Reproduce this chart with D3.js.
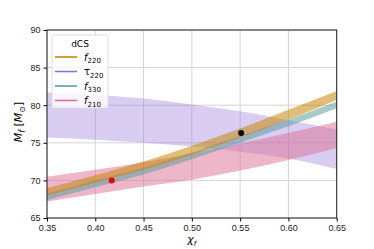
<!DOCTYPE html>
<html>
<head>
<meta charset="utf-8">
<script src="https://cdn.jsdelivr.net/npm/d3@7"></script>
<style>
  body { margin: 0; background: #fff; }
  svg { font-family: "DejaVu Sans", sans-serif; }
  .tick text { font-size: 9px; fill: #222; }
</style>
</head>
<body>
<div id="chart"></div>
<script>
// ------------ DATA ------------
var chi = [0.35, 0.40, 0.45, 0.50, 0.55, 0.60, 0.65];

var tau220Upper = [81.7, 81.4, 80.9, 80.1, 79.2, 78.0, 76.8];
var tau220Lower = [75.7, 75.4, 75.0, 74.5, 73.8, 72.9, 71.5];

var f210Upper = [70.5, 71.4, 72.4, 73.6, 74.9, 76.3, 77.8];
var f210Lower = [67.2, 68.2, 69.2, 70.1, 71.3, 72.7, 74.3];

var f220Upper = [69.0, 70.7, 72.5, 74.6, 76.9, 79.4, 81.9];
var f220Lower = [68.0, 69.7, 71.4, 73.4, 75.7, 78.1, 80.7];

var f330Upper = [68.3, 70.0, 71.7, 73.7, 75.9, 78.1, 80.5];
var f330Lower = [67.4, 69.1, 70.8, 72.8, 75.0, 77.2, 79.6];

var redPoint = [0.417, 70.0];
var blackPoint = [0.551, 76.3];

var xTicks = [0.35, 0.40, 0.45, 0.50, 0.55, 0.60, 0.65];
var yTicks = [65, 70, 75, 80, 85, 90];

// ------------ CHART FORMATTING ------------
var svgWidth = 374;
var svgHeight = 249;
var margin = { top: 30, right: 37.3, bottom: 31, left: 47 };
var chartWidth = svgWidth - margin.left - margin.right;
var chartHeight = svgHeight - margin.top - margin.bottom;

var svg = d3.select("#chart")
  .append("svg")
  .attr("width", svgWidth)
  .attr("height", svgHeight);

var chartGroup = svg.append("g")
  .attr("transform", `translate(${margin.left}, ${margin.top})`);

var x = d3.scaleLinear().domain([0.35, 0.65]).range([0, chartWidth]);
var y = d3.scaleLinear().domain([65, 90]).range([chartHeight, 0]);

// grid
chartGroup.append("g")
  .selectAll("line.vgrid")
  .data(xTicks)
  .enter()
  .append("line")
    .attr("x1", d => x(d)).attr("x2", d => x(d))
    .attr("y1", 0).attr("y2", chartHeight)
    .attr("stroke", "#d4d4d4").attr("stroke-width", 1);
chartGroup.append("g")
  .selectAll("line.hgrid")
  .data(yTicks)
  .enter()
  .append("line")
    .attr("x1", 0).attr("x2", chartWidth)
    .attr("y1", d => y(d)).attr("y2", d => y(d))
    .attr("stroke", "#d4d4d4").attr("stroke-width", 1);

// ------------ BANDS ------------
function band(upper, lower) {
  return chi.map((c, i) => ({ c: c, hi: upper[i], lo: lower[i] }));
}
var area = d3.area()
  .x(d => x(d.c))
  .y0(d => y(d.lo))
  .y1(d => y(d.hi))
  .curve(d3.curveMonotoneX);

var bands = [
  { data: band(tau220Upper, tau220Lower), color: "#9370db", op: 0.35 },
  { data: band(f210Upper, f210Lower), color: "#db7093", op: 0.5 },
  { data: band(f330Upper, f330Lower), color: "#5f9ea0", op: 0.55 },
  { data: band(f220Upper, f220Lower), color: "#c8860a", op: 0.55 }
];

chartGroup.append("g")
  .selectAll("path")
  .data(bands)
  .enter()
  .append("path")
    .attr("d", d => area(d.data))
    .attr("fill", d => d.color)
    .attr("fill-opacity", d => d.op);

// points
chartGroup.append("circle")
  .attr("cx", x(redPoint[0])).attr("cy", y(redPoint[1]))
  .attr("r", 3).attr("fill", "#e8000b");
chartGroup.append("circle")
  .attr("cx", x(blackPoint[0])).attr("cy", y(blackPoint[1]))
  .attr("r", 3).attr("fill", "#000");

// ------------ AXES ------------
chartGroup.append("g")
  .attr("transform", "translate(0, " + chartHeight + ")")
  .call(d3.axisBottom(x).tickValues(xTicks).tickFormat(d3.format(".2f")).tickSize(3.5).tickPadding(3))
  .call(g => g.select(".domain").remove());
chartGroup.append("g")
  .call(d3.axisLeft(y).tickValues(yTicks).tickSize(3.5).tickPadding(3))
  .call(g => g.select(".domain").remove());

// frame
chartGroup.append("rect")
  .attr("width", chartWidth).attr("height", chartHeight)
  .attr("fill", "none").attr("stroke", "#222").attr("stroke-width", 1);

// ------------ LABELS ------------
var xl = chartGroup.append("text")
  .attr("x", chartWidth / 2)
  .attr("y", chartHeight + 25)
  .attr("text-anchor", "middle")
  .attr("font-size", "11px")
  .attr("font-style", "italic");
xl.append("tspan").text("χ");
xl.append("tspan").attr("font-size", "7px").attr("dy", 3).text("f");

var yl = svg.append("text")
  .attr("transform", `translate(22, ${margin.top + chartHeight / 2 - 2}) rotate(-90)`)
  .attr("text-anchor", "middle")
  .attr("font-size", "11px");
yl.append("tspan").attr("font-style", "italic").text("M");
yl.append("tspan").attr("font-style", "italic").attr("font-size", "8px").attr("dy", 2.5).text("f");
yl.append("tspan").attr("dy", -2.5).text(" [");
yl.append("tspan").attr("font-style", "italic").text("M");
yl.append("tspan").attr("font-size", "8px").attr("dy", 2.5).text("⊙");
yl.append("tspan").attr("dy", -2.5).text("]");

// ------------ LEGEND ------------
var legendItems = [
  { name: "f", sub: "220", color: "#c8860a", italic: true },
  { name: "τ", sub: "220", color: "#9370db", italic: false },
  { name: "f", sub: "330", color: "#5f9ea0", italic: true },
  { name: "f", sub: "210", color: "#db7093", italic: true }
];
var legend = svg.append("g").attr("transform", "translate(52, 35)");
legend.append("rect")
  .attr("width", 56).attr("height", 73).attr("rx", 2)
  .attr("fill", "#fff").attr("fill-opacity", 0.8)
  .attr("stroke", "#ddd");
legend.append("text")
  .attr("x", 28).attr("y", 12)
  .attr("text-anchor", "middle")
  .attr("font-size", "9px")
  .text("dCS");
var entry = legend.selectAll("g.entry")
  .data(legendItems)
  .enter()
  .append("g")
  .attr("transform", (d, i) => `translate(0, ${22 + i * 14.5})`);
entry.append("line")
  .attr("x1", 3).attr("x2", 25)
  .attr("stroke", d => d.color).attr("stroke-width", 1.6);
var lt = entry.append("text")
  .attr("x", 32).attr("y", 3.5)
  .attr("font-size", "10px");
lt.append("tspan").attr("font-style", d => d.italic ? "italic" : "normal").text(d => d.name);
lt.append("tspan").attr("font-size", "7px").attr("dy", 2.5).text(d => d.sub);
</script>
</body>
</html>
